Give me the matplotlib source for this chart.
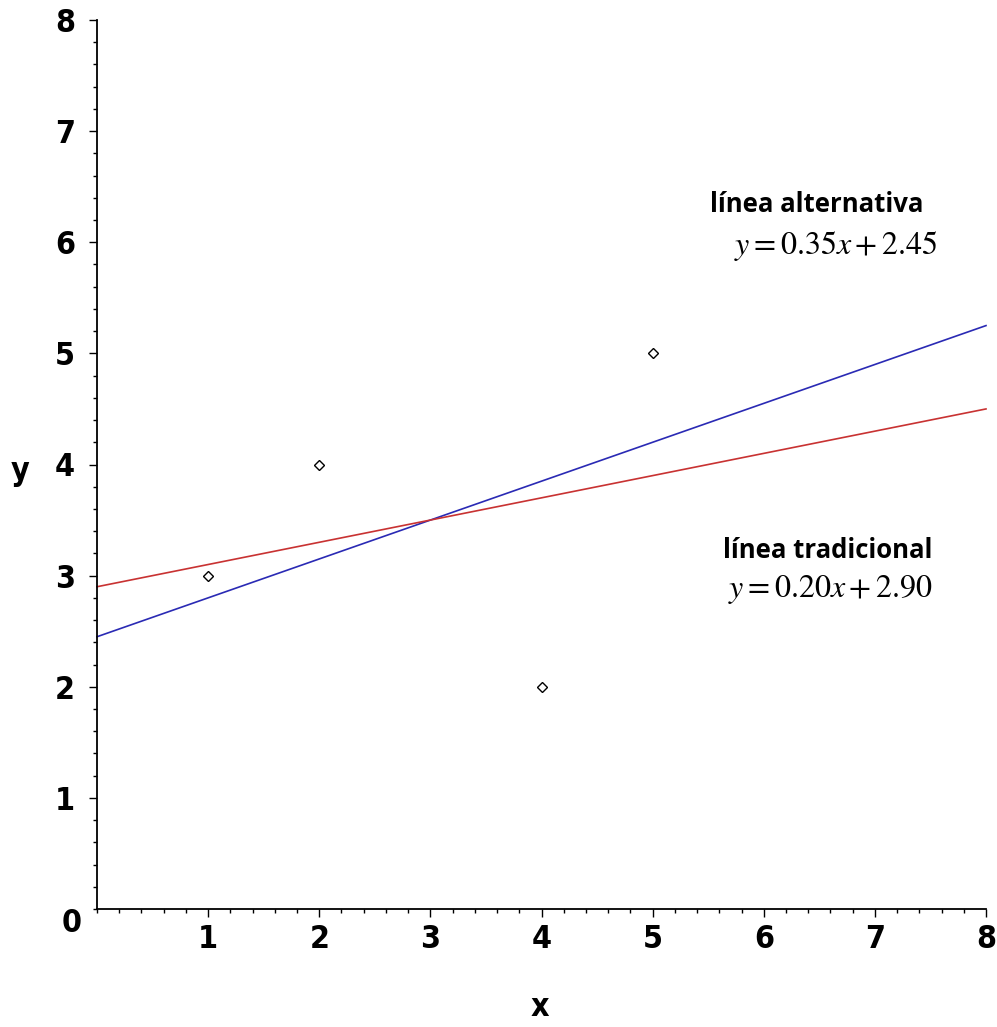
import matplotlib
matplotlib.use("Agg")
from matplotlib import pyplot as plt
from matplotlib.ticker import MultipleLocator
import numpy as np

# Data points
point_x = [1, 2, 4, 5]
point_y = [3, 4, 2, 5]

# Lines: (slope, intercept)
line_names = ["línea alternativa", "línea tradicional"]
line_slopes = [0.35, 0.20]
line_intercepts = [2.45, 2.90]
line_colors = ["#2a2ab4", "#c83232"]
line_eqs = [r"$y = 0.35x + 2.45$", r"$y = 0.20x + 2.90$"]

x_range = [0, 8]
tick_vals = [1, 2, 3, 4, 5, 6, 7, 8]

TICK_FONT = ["DejaVu Sans", "Liberation Sans"]
NOTE_FONT = ["Open Sans", "DejaVu Sans"]
TICK_KW = dict(fontfamily=TICK_FONT, fontweight="heavy", fontstretch="condensed",
               fontsize=23)

plt.rcParams["mathtext.fontset"] = "stix"

W, H = 997, 1027
fig = plt.figure(figsize=(W / 100, H / 100), dpi=100)
ax = fig.add_axes([97 / W, (H - 909) / H, 889 / W, 889 / H])

# lines drawn across the whole x range
xs = np.array(x_range, dtype=float)
for slope, icpt, col in zip(line_slopes, line_intercepts, line_colors):
    ax.plot(xs, slope * xs + icpt, color=col, lw=1.2, clip_on=False)

ax.plot(point_x, point_y, linestyle="none", marker="D", markersize=5.5,
        markerfacecolor="white", markeredgecolor="black", markeredgewidth=1.0)

ax.set_xlim(0, 8)
ax.set_ylim(0, 8)
for side in ("top", "right"):
    ax.spines[side].set_visible(False)
for side in ("left", "bottom"):
    ax.spines[side].set_linewidth(1.3)

ax.xaxis.set_minor_locator(MultipleLocator(0.2))
ax.yaxis.set_minor_locator(MultipleLocator(0.2))
ax.tick_params(which="major", direction="out", length=6, width=1.0, pad=5)
ax.tick_params(which="minor", direction="out", length=3, width=1.0)

ax.set_xticks(tick_vals)
ax.set_yticks(tick_vals)
ax.set_xticklabels([str(v) for v in tick_vals], **TICK_KW)
ax.set_yticklabels([str(v) for v in tick_vals], **TICK_KW)
ax.tick_params(axis="y", pad=10)

# origin label
fig.text(72 / W, 1 - 923 / H, "0", ha="center", va="center", **TICK_KW)

# axis labels
fig.text(20 / W, 1 - 472 / H, "y", ha="center", va="center", **TICK_KW)
fig.text(540 / W, 1 - 1008 / H, "x", ha="center", va="center", **TICK_KW)

# annotations
fig.text(817 / W, 1 - 205 / H, line_names[0], fontfamily=NOTE_FONT,
         fontweight="bold", fontsize=18.5, ha="center", va="center")
fig.text(836 / W, 1 - 246 / H, line_eqs[0], fontsize=23, ha="center", va="center")
fig.text(828 / W, 1 - 550 / H, line_names[1], fontfamily=NOTE_FONT,
         fontweight="bold", fontsize=18.5, ha="center", va="center")
fig.text(830 / W, 1 - 590 / H, line_eqs[1], fontsize=23, ha="center", va="center")

fig.savefig("out.png", dpi=100)
